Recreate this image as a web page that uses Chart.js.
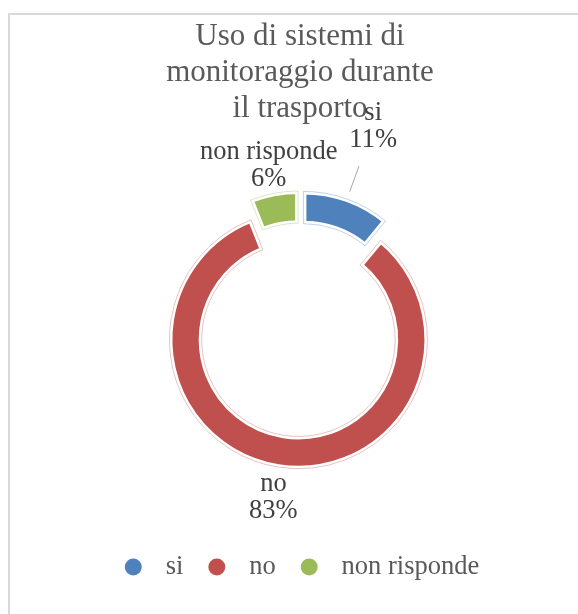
<!DOCTYPE html>
<html>
<head>
<meta charset="utf-8">
<script src="https://cdn.jsdelivr.net/npm/chart.js@4"></script>
<style>
  html, body { margin: 0; padding: 0; background: #fff; overflow: hidden; }
  #frame { position: absolute; left: 8px; top: 13px; width: 640px; height: 700px; border: 2px solid #d9d9d9; }
  #chart { position: absolute; left: 0; top: 0; }
</style>
</head>
<body>
<div id="frame"></div>
<canvas id="chart" width="578" height="614"></canvas>
<script>
// data
const titleLines = ["Uso di sistemi di", "monitoraggio durante", "il trasporto"];
const categories = ["si", "no", "non risponde"];
const values = [11, 83, 6];
const colors = ["#4f81bd", "#c0504d", "#9bbb59"];
const faintColors = ["rgba(79,129,189,0.35)", "rgba(192,80,77,0.35)", "rgba(155,187,89,0.35)"];

const FONT = "'Liberation Serif', 'Times New Roman', serif";
const EXPLODE = 10; // px each slice is pulled out

// draw the slices ourselves so every one is pulled out by the same amount,
// plus a thin faint outline just outside the white border (excel look)
const explode = {
    id: 'explode',
    beforeDatasetDraw(chart, args) {
        const ctx = chart.ctx;
        args.meta.data.forEach((arc, i) => {
            const mid = (arc.startAngle + arc.endAngle) / 2;
            ctx.save();
            ctx.translate(Math.cos(mid) * EXPLODE, Math.sin(mid) * EXPLODE);
            arc.draw(ctx);
            const saved = arc.options;
            arc.options = Object.assign({}, saved, {
                backgroundColor: 'rgba(0,0,0,0)',
                borderColor: faintColors[i],
                borderWidth: 1
            });
            arc.draw(ctx);
            arc.options = saved;
            ctx.restore();
        });
        return false;
    }
};

// name + percent next to each slice
const sliceLabels = {
    id: 'sliceLabels',
    afterDatasetsDraw(chart, args, opts) {
        const ctx = chart.ctx;
        const meta = chart.getDatasetMeta(0);
        const data = chart.data.datasets[0].data;
        const total = data.reduce((a, b) => a + b, 0);
        ctx.save();
        ctx.font = opts.size + 'px ' + FONT;
        ctx.textAlign = 'center';
        ctx.textBaseline = 'middle';
        meta.data.forEach((arc, i) => {
            const p = arc.getProps(['x', 'y', 'startAngle', 'endAngle', 'outerRadius'], true);
            const mid = (p.startAngle + p.endAngle) / 2;
            const cos = Math.cos(mid), sin = Math.sin(mid);
            const d = p.outerRadius + opts.distance[i];
            const lx = p.x + cos * d;
            const ly = p.y + sin * d;
            const lead = opts.leader[i];
            if (lead) {
                ctx.strokeStyle = '#a6a6a6';
                ctx.lineWidth = 1;
                ctx.beginPath();
                ctx.moveTo(p.x + cos * (p.outerRadius + lead[0]), p.y + sin * (p.outerRadius + lead[0]));
                ctx.lineTo(p.x + cos * (p.outerRadius + lead[1]), p.y + sin * (p.outerRadius + lead[1]));
                ctx.stroke();
            }
            ctx.fillStyle = opts.color;
            ctx.fillText(chart.data.labels[i], lx, ly - opts.lineHeight / 2);
            ctx.fillText(Math.round(data[i] / total * 100) + '%', lx, ly + opts.lineHeight / 2);
        });
        ctx.restore();
    }
};

const ctx = document.querySelector('#chart').getContext('2d');
const chart = new Chart(ctx, {
    type: 'doughnut',
    data: {
        labels: categories,
        datasets: [{
            data: values,
            backgroundColor: colors,
            borderColor: '#ffffff',
            borderWidth: 6,
            hoverOffset: 0
        }]
    },
    plugins: [explode, sliceLabels],
    options: {
        responsive: false,
        animation: false,
        radius: 129,
        cutout: '75%',
        layout: { padding: { left: 22, bottom: 23.75 } },
        plugins: {
            tooltip: { enabled: false },
            title: {
                display: true,
                text: titleLines,
                color: '#595959',
                font: { family: FONT, size: 31, weight: 'normal', lineHeight: 1.16 },
                padding: { top: 19, bottom: 0 }
            },
            legend: {
                position: 'bottom',
                labels: {
                    usePointStyle: true,
                    pointStyle: 'circle',
                    boxWidth: 25,
                    boxHeight: 12,
                    padding: 21,
                    color: '#595959',
                    font: { family: FONT, size: 26.5 },
                    generateLabels(c) {
                        const items = Chart.overrides.doughnut.plugins.legend.labels.generateLabels(c);
                        items.forEach(it => { it.text = ' ' + it.text; it.lineWidth = 0; });
                        return items;
                    }
                }
            },
            sliceLabels: {
                size: 26.5,
                lineHeight: 27,
                color: '#404040',
                distance: [87, 41, 38],
                leader: [[18, 45], null, null]
            }
        }
    }
});
</script>
</body>
</html>
